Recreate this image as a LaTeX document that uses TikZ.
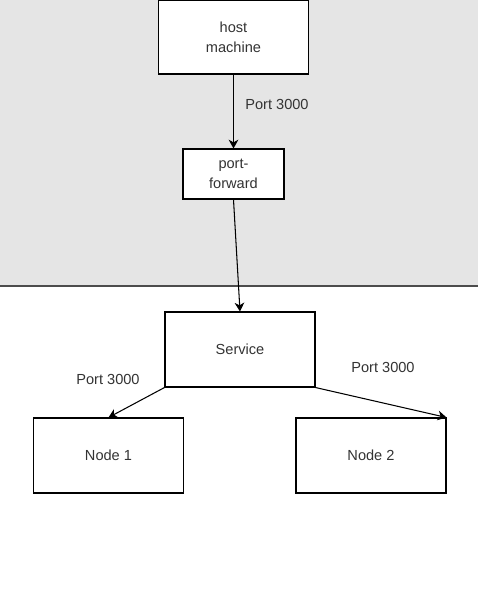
\documentclass[tikz,border=0pt]{standalone}
\usepackage{fontspec}
\setmainfont{Liberation Sans}
\usetikzlibrary{arrows.meta}
\definecolor{zonegray}{RGB}{229,229,229}
\definecolor{inkgray}{RGB}{51,51,51}
\begin{document}
\begin{tikzpicture}[x=0.02cm, y=-0.02cm,
    box/.style={draw, fill=white, line width=0.6pt, align=center, inner sep=0pt, text=inkgray, font=\fontsize{8.3}{11.3}\selectfont},
    lbl/.style={font=\fontsize{8.3}{11.3}\selectfont, text=inkgray, inner sep=0pt},
    conn/.style={line width=0.6pt, -{Stealth[length=5pt, width=5.5pt, inset=1.5pt]}}]
        % Background
        \useasboundingbox (0, 0) rectangle (478, 616);
        \fill[white] (0, 0) rectangle (478, 616);
        \fill[zonegray] (0, 0) rectangle (478, 286);
        \draw[line width=0.6pt, black!70] (0, 286) -- (478, 286);

        % Boxes
        \node[box, minimum width=3cm, minimum height=1.48cm] (host) at (233.5, 37) {host\\machine};
        \node[box, minimum width=2.02cm, minimum height=1cm] (pf) at (233.5, 174) {port-\\forward};
        \node[box, minimum width=3cm, minimum height=1.5cm] (svc) at (240, 349.5) {Service};
        \node[box, minimum width=3cm, minimum height=1.5cm] (n1) at (108.5, 455.5) {Node 1};
        \node[box, minimum width=3cm, minimum height=1.5cm] (n2) at (371, 455.5) {Node 2};

        % Connectors
        \draw[conn] (host) -- (pf);
        \draw[conn] (pf.south) -- (svc.north);
        \draw[conn] (svc.south west) -- (n1.north);
        \draw[conn] (svc.south east) -- (n2.north east);

        % Port labels
        \node[lbl] (p1) at (277, 104) {Port 3000};
        \node[lbl] (p2) at (108, 379) {Port 3000};
        \node[lbl] (p3) at (383, 367) {Port 3000};
    \end{tikzpicture}
\end{document}
